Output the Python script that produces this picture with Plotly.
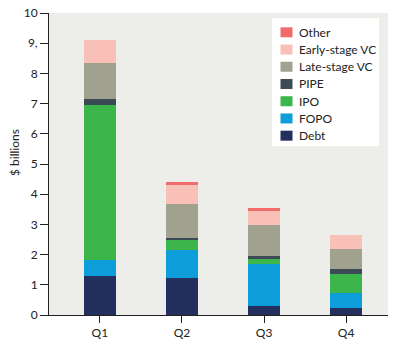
import plotly.graph_objects as go

quarters = ["Q1", "Q2", "Q3", "Q4"]

# Financing by type, $ billions per quarter (stacked bottom to top)
debt = [1.30, 1.23, 0.29, 0.24]
fopo = [0.53, 0.92, 1.41, 0.49]
ipo = [5.13, 0.33, 0.16, 0.64]
pipe = [0.20, 0.08, 0.08, 0.15]
late_vc = [1.19, 1.12, 1.05, 0.66]
early_vc = [0.77, 0.63, 0.46, 0.48]
other = [0.0, 0.11, 0.10, 0.0]

y_tick_vals = [0, 1, 2, 3, 4, 5, 6, 7, 8, 9, 10]
y_tick_text = ["0", "1", "2", "3", "4", "5", "6", "7", "8", "9,", "10"]

series = [
    ("Debt", debt, "#232f5c"),
    ("FOPO", fopo, "#0d9ddb"),
    ("IPO", ipo, "#3cb54a"),
    ("PIPE", pipe, "#3c4a56"),
    ("Late-stage VC", late_vc, "#a1a190"),
    ("Early-stage VC", early_vc, "#f9c0b8"),
    ("Other", other, "#f26b6b"),
]

FONT = "Lato"
INK = "#222222"
W, H = 397, 346
M_L, M_R, M_T, M_B = 49, 9, 13, 31
PLOT_W = W - M_L - M_R
PLOT_H = H - M_T - M_B


def px_x(px):
    """Pixel column -> paper x."""
    return (px - M_L) / PLOT_W


def px_y(py):
    """Pixel row -> paper y."""
    return (H - M_B - py) / PLOT_H


fig = go.Figure()
for name, vals, color in series:
    fig.add_trace(go.Bar(
        x=quarters, y=vals, name=name,
        marker=dict(color=color, line=dict(width=0)),
        width=0.39, showlegend=False,
    ))

# Key box in the upper right: white panel, one swatch + label per series,
# listed top to bottom in stacking order reversed.
shapes = [dict(
    type="rect", xref="paper", yref="paper", layer="above",
    x0=px_x(272), x1=px_x(379), y0=px_y(146), y1=px_y(18),
    fillcolor="white", line=dict(width=0),
)]
annotations = []
for i, (name, _, color) in enumerate(reversed(series)):
    cy = 32.3 + i * 17.23
    shapes.append(dict(
        type="rect", xref="paper", yref="paper", layer="above",
        x0=px_x(280.5), x1=px_x(292.5), y0=px_y(cy + 5), y1=px_y(cy - 5),
        fillcolor=color, line=dict(width=0),
    ))
    annotations.append(dict(
        text=name, xref="paper", yref="paper",
        x=px_x(297), y=px_y(cy), xanchor="left", yanchor="middle",
        showarrow=False, font=dict(family=FONT, size=12, color=INK),
    ))

annotations.append(dict(
    text="$ billions", textangle=-90,
    xref="paper", yref="paper", x=px_x(14), y=px_y(153),
    xanchor="center", yanchor="middle", showarrow=False,
    font=dict(family=FONT, size=12, color=INK),
))

fig.update_layout(
    template="none",
    barmode="stack",
    width=W, height=H,
    margin=dict(l=M_L, r=M_R, t=M_T, b=M_B, pad=0),
    paper_bgcolor="white",
    plot_bgcolor="#ededea",
    font=dict(family=FONT, size=12, color=INK),
    showlegend=False,
    xaxis=dict(
        range=[-0.62, 3.51], automargin=False,
        showgrid=False, zeroline=False,
        showline=True, linecolor=INK, linewidth=1,
        ticks="outside", ticklen=7, tickcolor=INK, tickwidth=1,
        tickfont=dict(family=FONT, size=12, color=INK),
    ),
    yaxis=dict(
        range=[0, 10], automargin=False,
        tickvals=y_tick_vals, ticktext=y_tick_text,
        showgrid=False, zeroline=False,
        showline=True, linecolor=INK, linewidth=1,
        ticks="outside", ticklen=8, tickcolor=INK, tickwidth=1,
        tickfont=dict(family=FONT, size=12, color=INK),
    ),
    shapes=shapes,
    annotations=annotations,
)

fig.write_html("out.html")
